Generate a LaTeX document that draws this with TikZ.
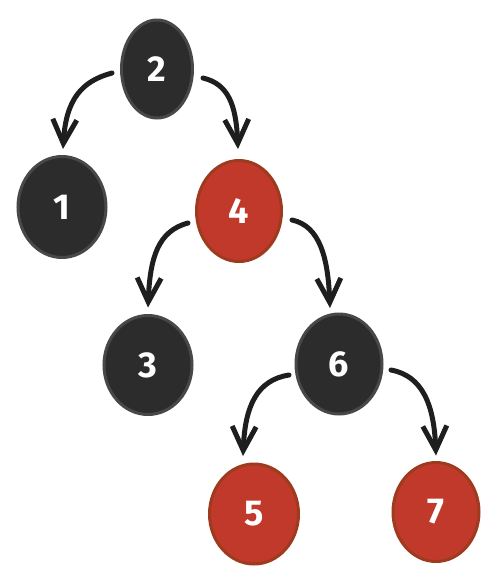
\documentclass[tikz,border=0pt]{standalone}
\usepackage{fontspec}
\setmainfont{Fira Sans}
\usetikzlibrary{shapes.geometric,arrows.meta,calc}
\definecolor{darkfill}{RGB}{44,44,44}
\definecolor{darkline}{RGB}{72,72,70}
\definecolor{redfill}{RGB}{192,57,43}
\definecolor{redline}{RGB}{158,58,30}
\definecolor{inkc}{RGB}{30,30,30}
\tikzset{
  tnode/.style={ellipse, inner sep=0pt, outer sep=0pt, line width=3pt,
    text=white, font=\fontsize{36}{36}\selectfont\bfseries},
  blk/.style={tnode, fill=darkfill, draw=darkline},
  rd/.style={tnode, fill=redfill, draw=redline},
  arr/.style={draw=inkc, line width=5pt, line cap=round, line join=round,
    -{Straight Barb[length=24pt,width=24pt,line width=5pt]}}
}
\begin{document}
\begin{tikzpicture}[x=1pt,y=-1pt]
\useasboundingbox (0,0) rectangle (499,582);
\node[blk, minimum width=71pt, minimum height=98pt] (n2) at (157,69) {2};
\node[blk, minimum width=88pt, minimum height=101pt] (n1) at (62,207) {1};
\node[rd, minimum width=85pt, minimum height=101pt] (n4) at (239,211) {4};
\node[blk, minimum width=88pt, minimum height=99pt] (n3) at (148,365) {3};
\node[blk, minimum width=86pt, minimum height=100pt] (n6) at (339,364) {6};
\node[rd, minimum width=89pt, minimum height=100pt] (n5) at (254,514) {5};
\node[rd, minimum width=86pt, minimum height=99pt] (n7) at (436,512) {7};

\draw[arr] ($(n2.west)+(-9.5,4)$) .. controls +(-30,8) and +(3,-50) .. ($(n1.north)+(1,-7.5)$);
\draw[arr] ($(n2.east)+(10.5,9)$) .. controls +(25,6) and +(-2,-45) .. ($(n4.north)+(-1,-11.5)$);
\draw[arr] ($(n4.west)+(-8.5,12)$) .. controls +(-30,8) and +(2,-50) .. ($(n3.north)+(0,-8)$);
\draw[arr] ($(n4.east)+(10.5,9)$) .. controls +(28,6) and +(-2,-50) .. ($(n6.north)+(-9,-6)$);
\draw[arr] ($(n6.west)+(-7,11)$) .. controls +(-32,5) and +(2,-50) .. ($(n5.north)+(-11,-8)$);
\draw[arr] ($(n6.east)+(9,6)$) .. controls +(32,6) and +(-2,-50) .. ($(n7.north)+(0,-7)$);
\end{tikzpicture}
\end{document}
